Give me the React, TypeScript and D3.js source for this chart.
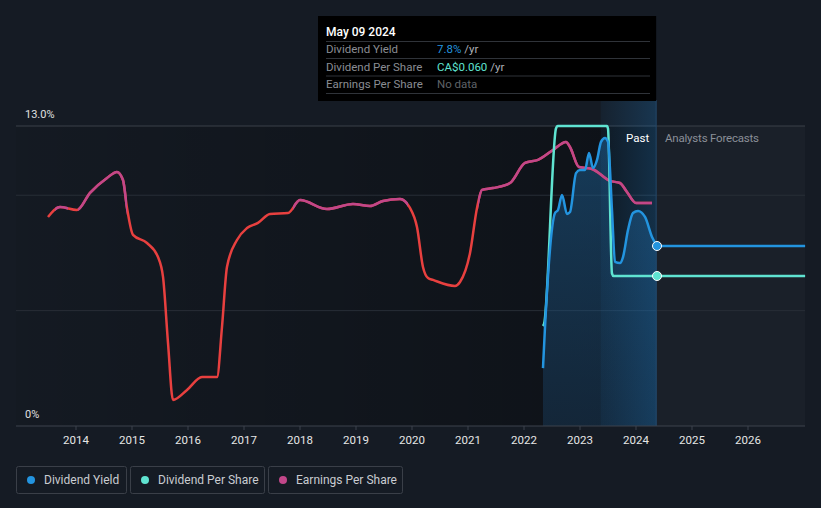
import React from "react";
import * as d3 from "d3";

// ---- data (decimal years) ----
const yearTicks = [2014, 2015, 2016, 2017, 2018, 2019, 2020, 2021, 2022, 2023, 2024, 2025, 2026];
const yTickLabels = [{ v: 13, label: "13.0%" }, { v: 0, label: "0%" }];
const gridValues = [13, 10, 5];

const yieldDates = [2022.339, 2022.375, 2022.554, 2022.607, 2022.679, 2022.768, 2022.821, 2022.929, 2023.0, 2023.089, 2023.161, 2023.232, 2023.304, 2023.375, 2023.446, 2023.5, 2023.571, 2023.625, 2023.714, 2023.768, 2023.857, 2023.946, 2024.036, 2024.161, 2024.286, 2024.375];
const yieldValues = [2.51, 4.29, 9.23, 9.36, 10.01, 9.19, 9.27, 10.96, 11.09, 11.09, 11.83, 11.18, 11.53, 12.31, 12.48, 12.31, 9.36, 7.11, 7.06, 7.32, 8.49, 9.23, 9.32, 9.06, 8.19, 7.8];
const yieldForecastDates = [2024.375, 2027.02];
const yieldForecastValues = [7.8, 7.8];

const dpsDates = [2022.339, 2022.36, 2022.571, 2022.6, 2023.48, 2023.5, 2023.571, 2023.6, 2024.375];
const dpsValues = [0.04, 0.041, 0.119, 0.12, 0.12, 0.119, 0.061, 0.06, 0.06];
const dpsForecastDates = [2024.375, 2027.02];
const dpsForecastValues = [0.06, 0.06];

const epsDates = [2013.5, 2013.714, 2014.018, 2014.25, 2014.554, 2014.732, 2014.839, 2014.911, 2015.018, 2015.268, 2015.464, 2015.554, 2015.643, 2015.732, 2015.982, 2016.25, 2016.518, 2016.607, 2016.696, 2016.875, 2017.054, 2017.25, 2017.464, 2017.786, 2018.0, 2018.482, 2018.946, 2019.25, 2019.482, 2019.786, 2019.964, 2020.089, 2020.196, 2020.286, 2020.375, 2020.768, 2020.857, 2021.036, 2021.161, 2021.25, 2021.446, 2021.75, 2022.018, 2022.25, 2022.518, 2022.75, 2022.821, 2022.982, 2023.214, 2023.536, 2023.714, 2023.839, 2024.0, 2024.286];
const epsValues = [9.06, 9.49, 9.36, 10.1, 10.75, 11.01, 10.66, 9.45, 8.28, 7.93, 7.32, 6.46, 3.6, 1.13, 1.56, 2.12, 2.12, 4.29, 6.89, 8.06, 8.58, 8.8, 9.19, 9.23, 9.79, 9.4, 9.62, 9.53, 9.75, 9.84, 9.45, 8.62, 6.89, 6.41, 6.33, 6.07, 6.24, 7.5, 9.45, 10.23, 10.31, 10.53, 11.4, 11.53, 11.96, 12.31, 12.09, 11.22, 11.14, 10.62, 10.53, 10.14, 9.66, 9.66];
const epsHighlightRanges: [number, number][] = [[2013.625, 2013.857], [2014.036, 2014.911], [2017.875, 2019.93], [2021.18, 2024.3]];

const todayDate = 2024.36;
const lastYearStart = 2023.37;
const legendItems = [
  { label: "Dividend Yield", color: "#2394df" },
  { label: "Dividend Per Share", color: "#5fe3d1" },
  { label: "Earnings Per Share", color: "#c2478a" },
];

const W = 821, H = 508;
const L = 16, R = 805, T = 126, B = 426;

export default function App() {
  const x = d3.scaleLinear().domain([2014, 2026]).range([76, 748]);
  const y = d3.scaleLinear().domain([0, 13]).range([B, T]);
  const yDps = d3.scaleLinear().domain([0, 0.12]).range([B, T]);
  const yEps = d3.scaleLinear().domain([0, 13]).range([B, T]);
  const xToday = x(todayDate);

  const yieldPts = yieldDates.map((d, i) => [d, yieldValues[i]] as [number, number]);
  const dpsPts = dpsDates.map((d, i) => [d, dpsValues[i]] as [number, number]);
  const epsPts = epsDates.map((d, i) => [d, epsValues[i]] as [number, number]);

  const lineY = d3.line<[number, number]>().x(d => x(d[0])).y(d => y(d[1])).curve(d3.curveMonotoneX);
  const areaY = d3.area<[number, number]>().x(d => x(d[0])).y0(B).y1(d => y(d[1])).curve(d3.curveMonotoneX);
  const lineD = d3.line<[number, number]>().x(d => x(d[0])).y(d => yDps(d[1])).curve(d3.curveMonotoneX);
  const lineE = d3.line<[number, number]>().x(d => x(d[0])).y(d => yEps(d[1])).curve(d3.curveMonotoneX);

  const yfPts = yieldForecastDates.map((d, i) => [d, yieldForecastValues[i]] as [number, number]);
  const dfPts = dpsForecastDates.map((d, i) => [d, dpsForecastValues[i]] as [number, number]);

  const font = "Roboto, 'Noto Sans', sans-serif";
  const tooltipRows = [
    { label: "Dividend Yield", value: "7.8%", valueColor: "#2394df", suffix: " /yr" },
    { label: "Dividend Per Share", value: "CA$0.060", valueColor: "#5fe3d1", suffix: " /yr" },
    { label: "Earnings Per Share", value: "No data", valueColor: "#5f6368", suffix: "" },
  ];

  let legendX = 16;
  const legendBoxes = legendItems.map((it) => {
    const w = it.label.length * 6.0 + 26;
    const box = { ...it, x: legendX, w };
    legendX += w + 4;
    return box;
  });

  return (
    <div style={{ position: "absolute", left: 0, top: 0 }}>
      <style>{`body{margin:0;background:#151b24}`}</style>
      <svg width={W} height={H} style={{ display: "block", background: "#151b24", fontFamily: font }}>
        <defs>
          <linearGradient id="pastGrad" x1="0" x2="1" y1="0" y2="0">
            <stop offset="0" stopColor="#000" stopOpacity="0.05" />
            <stop offset="1" stopColor="#000" stopOpacity="0.35" />
          </linearGradient>
          <linearGradient id="bandGrad" x1="0" x2="1" y1="0" y2="0">
            <stop offset="0" stopColor="#1f6fae" stopOpacity="0.08" />
            <stop offset="1" stopColor="#1f6fae" stopOpacity="0.32" />
          </linearGradient>
          <linearGradient id="areaGrad" x1="0" x2="0" y1="0" y2="1">
            <stop offset="0" stopColor="#1c5c8e" stopOpacity="0.55" />
            <stop offset="1" stopColor="#1c4a73" stopOpacity="0.35" />
          </linearGradient>
          {epsHighlightRanges.map((r, i) => (
            <clipPath id={`epsClip${i}`} key={i}>
              <rect x={x(r[0])} y={0} width={x(r[1]) - x(r[0])} height={H} />
            </clipPath>
          ))}
        </defs>

        {/* past gradient background */}
        <rect x={L} y={T} width={xToday - L} height={B - T} fill="url(#pastGrad)" />
        {/* forecast region */}
        <rect x={xToday} y={T} width={R - xToday} height={B - T} fill="#ffffff" fillOpacity={0.025} />

        {/* gridlines */}
        {gridValues.map((v) => (
          <line key={v} x1={L} x2={R} y1={y(v)} y2={y(v)} stroke={v === 13 ? "#3a4049" : "#282e37"} strokeWidth={1} />
        ))}

        {/* yield area */}
        <path d={areaY(yieldPts) || ""} fill="url(#areaGrad)" />
        {/* last-year band */}
        <rect x={x(lastYearStart)} y={100} width={xToday - x(lastYearStart)} height={B - 100} fill="url(#bandGrad)" />
        {/* today line */}
        <line x1={xToday} x2={xToday} y1={100} y2={B} stroke="#24486a" strokeWidth={1} />

        {/* EPS line */}
        <path d={lineE(epsPts) || ""} fill="none" stroke="#e8403f" strokeWidth={2.5} />
        {epsHighlightRanges.map((r, i) => (
          <path key={i} d={lineE(epsPts) || ""} fill="none" stroke="#c2478a" strokeWidth={2.5} clipPath={`url(#epsClip${i})`} />
        ))}

        {/* DPS */}
        <path d={lineD(dpsPts) || ""} fill="none" stroke="#5fe3d1" strokeWidth={2.5} />
        <path d={lineD(dfPts) || ""} fill="none" stroke="#5fe3d1" strokeWidth={2.5} />
        {/* Yield */}
        <path d={lineY(yieldPts) || ""} fill="none" stroke="#2394df" strokeWidth={2.5} />
        <path d={lineY(yfPts) || ""} fill="none" stroke="#2394df" strokeWidth={2.5} />

        <circle cx={x(yieldForecastDates[0])} cy={y(yieldForecastValues[0])} r={4.5} fill="#2394df" stroke="#fff" strokeWidth={1} />
        <circle cx={x(dpsForecastDates[0])} cy={yDps(dpsForecastValues[0])} r={4.5} fill="#5fe3d1" stroke="#fff" strokeWidth={1} />

        {/* x axis */}
        <line x1={L} x2={R} y1={B} y2={B} stroke="#3d434c" strokeWidth={1} />
        {yearTicks.map((t) => (
          <g key={t} transform={`translate(${x(t)},${B})`}>
            <line y1={0} y2={4} stroke="#3d434c" />
            <text y={18} textAnchor="middle" fill="#e6e6e6" fontSize={11.5}>{t}</text>
          </g>
        ))}

        {/* y labels */}
        {yTickLabels.map((t) => (
          <text key={t.label} x={25} y={y(t.v) - 8} fill="#e0e0e0" fontSize={11}>{t.label}</text>
        ))}

        <text x={626} y={142} fill="#ffffff" fontSize={11.5}>Past</text>
        <text x={665} y={142} fill="#8a8f98" fontSize={11.5} letterSpacing={-0.2}>Analysts Forecasts</text>

        {/* tooltip */}
        <rect x={318} y={16} width={xToday - 318} height={85} fill="#000" />
        <text x={326} y={36} fill="#fff" fontSize={12} fontWeight={500}>May 09 2024</text>
        {[41.5, 58.5, 76, 93.5].map((yy) => (
          <line key={yy} x1={326} x2={650} y1={yy} y2={yy} stroke="#2f3339" strokeWidth={1} />
        ))}
        {tooltipRows.map((r, i) => (
          <g key={r.label}>
            <text x={326} y={53 + i * 17.5} fill="#8a8d93" fontSize={11.5}>{r.label}</text>
            <text x={437} y={53 + i * 17.5} fontSize={11.5}>
              <tspan fill={r.valueColor}>{r.value}</tspan>
              <tspan fill="#aeb2b8">{r.suffix}</tspan>
            </text>
          </g>
        ))}

        {/* legend */}
        {legendBoxes.map((b) => (
          <g key={b.label}>
            <rect x={b.x + 0.5} y={466.5} width={b.w} height={27} rx={2} fill="none" stroke="#3a3f48" />
            <circle cx={b.x + 15} cy={480} r={4} fill={b.color} />
            <text x={b.x + 28} y={484} fill="#c9ccd1" fontSize={12}>{b.label}</text>
          </g>
        ))}
      </svg>
    </div>
  );
}
